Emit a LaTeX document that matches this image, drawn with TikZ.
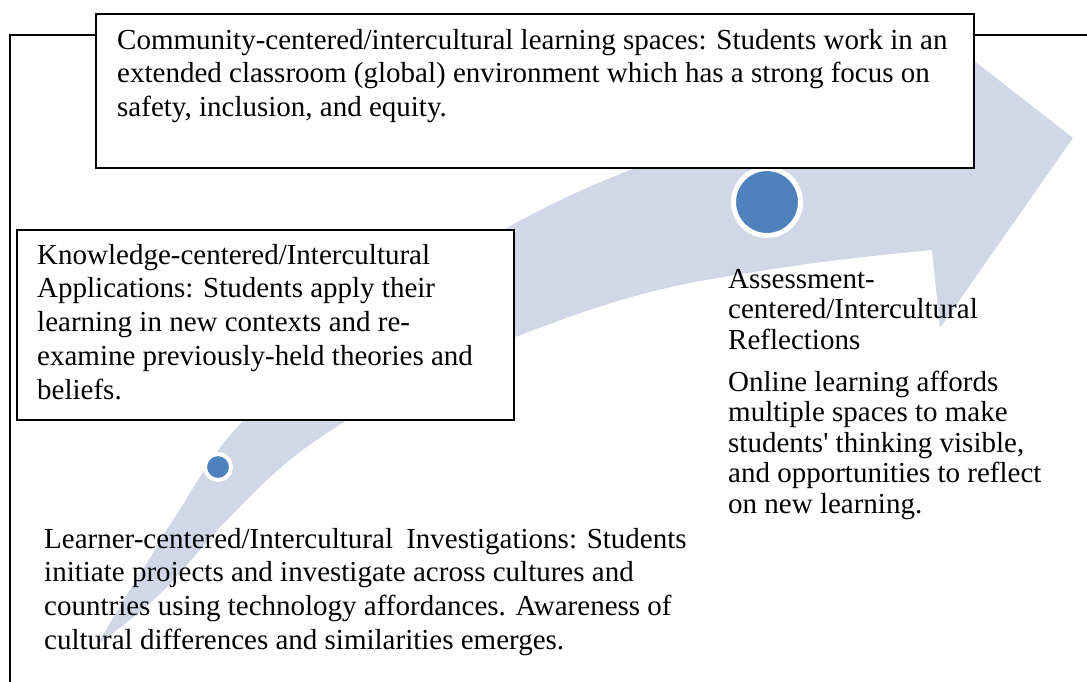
\documentclass[tikz,border=0pt]{standalone}
\usepackage{fontspec}
\newfontfamily\txtfont{Liberation Serif}
\definecolor{arrowblue}{HTML}{D0D8E8}
\definecolor{dotblue}{HTML}{4F81BD}
\begin{document}
\begin{tikzpicture}[x=1pt,y=-1pt,
  frame/.style={line width=1.4pt, draw=black},
  box/.style={draw=black, line width=1.8pt, fill=white, inner sep=0pt, anchor=north west},
  txt/.style={anchor=base west, inner sep=0pt, font=\txtfont\fontsize{29}{33.8}\selectfont},
  txtb/.style={anchor=base west, inner sep=0pt, font=\txtfont\fontsize{29}{30.5}\selectfont},
  dot/.style={circle, fill=dotblue, draw=white, inner sep=0pt}]
\useasboundingbox (0,0) rectangle (1087,681);
% outer frame
\coordinate (ftl) at (10,35);
\coordinate (fbl) at (10,700);
\coordinate (ftr) at (1100,35);
% arrow
\fill[arrowblue] plot[smooth, tension=0.6] coordinates {(97,645) (122,603) (150,558) (175,517) (242,422) (370,316) (505,229) (633,169) (780,124) (927,90)}
  -- (922,20) -- (1073,138) -- (940,328) -- (932,250)
  -- plot[smooth, tension=0.6] coordinates {(932,250) (800,265) (650,292) (513,338) (400,390) (300,452) (227,520) (160,594) (97,645)} -- cycle;
% dots
\node[dot, minimum size=26pt, line width=4pt] (d1) at (218,467) {};
\node[dot, minimum size=67pt, line width=5pt] (d2) at (767,202) {};
% boxes
\node[box, minimum width=878pt, minimum height=154pt] (comm) at (95,13) {};
\node[box, minimum width=497pt, minimum height=190pt] (know) at (16,229) {};
\draw[frame] (comm.west |- ftl) -- (ftl) -- (fbl);
\draw[frame] (comm.east |- ftr) -- (ftr);
% texts
\node[txt] (commtext) at (117,49) {\parbox[t]{860pt}{Community-centered/intercultural learning spaces: Students work in an\\extended classroom (global) environment which has a strong focus on\\safety, inclusion, and equity.}};
\node[txt] (knowtext) at (37,264) {\parbox[t]{470pt}{Knowledge-centered/Intercultural\\Applications: Students apply their\\learning in new contexts and re-\\examine previously-held theories and\\beliefs.}};
\node[txtb] (asstext) at (728,288) {\parbox[t]{350pt}{Assessment-\\centered/Intercultural\\Reflections\par\vspace{11.5pt}Online learning affords\\multiple spaces to make\\students' thinking visible,\\and opportunities to reflect\\on new learning.}};
\node[txt] (learntext) at (44,548) {\parbox[t]{660pt}{Learner-centered/Intercultural\hspace{6pt} Investigations: Students\\initiate projects and investigate across cultures and\\countries using technology affordances. Awareness of\\cultural differences and similarities emerges.}};
\end{tikzpicture}
\end{document}
